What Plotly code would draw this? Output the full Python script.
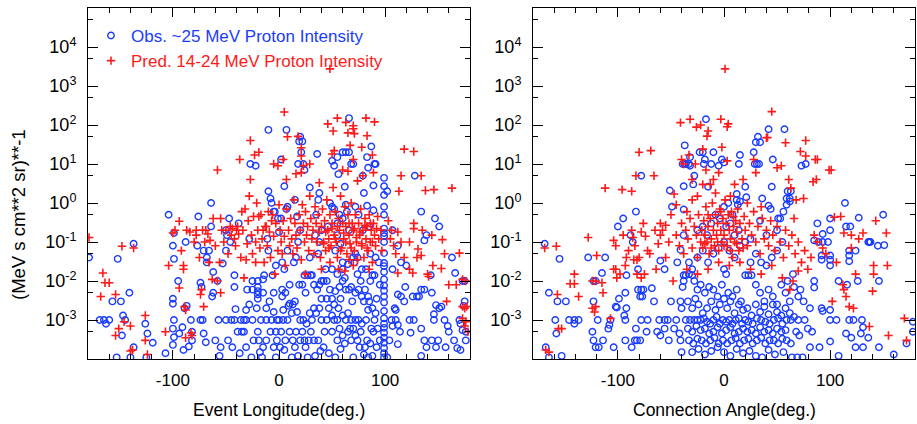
import plotly.graph_objects as go

# ---------------- data ----------------
x_tick_vals = [-100, 0, 100]
x_tick_text = ["-100", "0", "100"]
y_tick_vals = [1e-4, 1e-3, 1e-2, 1e-1, 1e0, 1e1, 1e2, 1e3, 1e4, 1e5]
y_tick_text = ["", "10<sup>-3</sup>", "10<sup>-2</sup>", "10<sup>-1</sup>", "10<sup>0</sup>",
               "10<sup>1</sup>", "10<sup>2</sup>", "10<sup>3</sup>", "10<sup>4</sup>", ""]
y_minor_vals = [5e-4, 5e-3, 5e-2, 5e-1, 5e0, 5e1, 5e2, 5e3, 5e4]

# Left panel: observed intensity vs event longitude
obs_lon_x = [
    -179, -152, -137, -141, -157, -149, -169, -165, -160, -163,
    -147, -145, -148, -137, -153, -140, -125, -126, -124, -119,
    -107, -104, -99, -100, -99, -100, -100, -99, -100, -99,
    -100, -95, -94, -91, -90, -89, -87, -88, -85, -83,
    -82, -82, -76, -77, -74, -73, -74, -72, -71, -71,
    -69, -68, -68, -66, -64, -64, -62, -62, -63, -60,
    -58, -57, -56, -55, -53, -50, -50, -49, -47, -50,
    -45, -48, -46, -42, -42, -41, -42, -39, -38, -36,
    -35, -33, -31, -31, -31, -28, -27, -22, -25, -25,
    -25, -24, -20, -20, -20, -20, -20, -21, -20, -19,
    -17, -16, -15, -14, -12, -12, -12, -10, -10, -8,
    -7, -5, -4, -7, -8, -5, -3, -2, -1, 0,
    -10, -11, -15, -18, -2, -3, -6, -5, 7, 2,
    5, 8, 7, 2, 8, 3, 5, 6, 3, 4,
    9, 10, 0, 4, 8, 2, 6, 1, 5, 12,
    14, 15, 17, 18, 18, 20, 19, 22, 21, 23,
    24, 20, 16, 19, 22, 24, 27, 30, 13, 15,
    12, 17, 20, 23, 26, 20, 24, 28, 16, 22,
    30, 15, 25, 27, 29, 29, 31, 33, 31, 29,
    33, 36, 37, 38, 35, 34, 40, 37, 38, 40,
    42, 36, 40, 38, 45, 43, 45, 40, 37, 47,
    42, 44, 46, 48, 50, 52, 55, 56, 60, 63,
    66, 66, 62, 63, 50, 52, 55, 57, 60, 64,
    55, 53, 58, 66, 68, 70, 72, 75, 70, 74,
    65, 60, 53, 55, 58, 60, 56, 50, 50, 52,
    55, 60, 63, 66, 69, 72, 75, 78, 80, 65,
    68, 72, 75, 78, 82, 84, 86, 88, 90, 85,
    92, 50, 55, 58, 62, 65, 68, 70, 72, 76,
    80, 83, 86, 89, 90, 92, 79, 80, 83, 84,
    87, 90, 91, 89, 83, 89, 85, 79, 72, 86,
    91, 94, 78, 82, 95, 99, 99, 99, 99, 99,
    99, 99, 99, 99, 99, 99, 99, 99, 99, 99,
    99, 99, 99, 99, 99, 99, 99, 99, 99, 99,
    99, 99, 99, 102, 107, 112, 115, 107, 128, 134,
    147, 151, 139, 137, 163, 166, 173, 175, 175, 174,
    170, 171, 173, 176, 176, 171, 168, 156, 159, 160,
    165, 157, 146, 146, 148, 151, 153, 144, 143, 134,
    137, 132, 130, 126, 123, 127, 124, 134, 134, 137,
    139, 144, 150, 148, 119, 115, 112, 118, 109, 110,
    106, 110, 107, 112, 114, 104, 112, 102, 120, -30,
    3, 10, 25, 33, 45, 48, 52, 57, 62, 68,
    71, 74, 77, 81, 84, 88, 91, 93, 95, 88,
    35, 38, 47, 50, 57, 60, 63, 67, 70, 74,
    77, 81, 84, 87, 18, 10, 13, 34, 39, 53,
    -26, -37, -44, -33, -28, -15, -9, -5, -3, 60,
]
obs_lon_y = [
    4e-2, 3.7e-2, 9e-2, 5e-3, 3e-3, 3e-3, 1e-3, 1e-3, 1e-3, 8e-4,
    1.3e-3, 1e-3, 4e-4, 2e-4, 1.1e-4, 1.1e-4, 1.1e-4, 8e-4, 4.5e-4, 2.6e-4,
    1.4e-4, 0.5, 0.17, 0.08, 0.037, 3.5e-3, 2.6e-3, 1e-3, 6e-4, 3.6e-4,
    2.3e-4, 1e-2, 4.5e-4, 6.5e-4, 1.7e-4, 2e-3, 2.3e-3, 0.1, 2.1e-4, 1e-3,
    5e-4, 3e-4, 0.45, 0.08, 9e-3, 7e-3, 1e-3, 1e-3, 4.5e-4, 0.06,
    2.7e-4, 0.03, 0.04, 0.06, 1.0, 0.25, 1.7e-2, 5e-3, 4e-3, 3e-4,
    1e-2, 1e-3, 1.2e-4, 2e-4, 2.8e-2, 0.06, 0.2, 0.15, 0.4, 1e-3,
    1e-3, 3e-4, 0.1, 1.4e-2, 7e-3, 1.9e-3, 1e-3, 5e-4, 0.3, 1e-3,
    5e-4, 5e-4, 1.8e-3, 1e-3, 2e-4, 0.12, 10, 9, 6e-3, 1e-2,
    1e-3, 3e-4, 1e-2, 7e-3, 5.5e-3, 4.5e-3, 3.5e-3, 2e-3, 5e-4, 3e-4,
    1e-3, 1.1e-4, 1.1e-2, 1.4e-2, 2e-3, 1e-3, 3e-4, 0.06, 2, 1.3,
    1.0, 0.6, 0.6, 1e-3, 5e-4, 2e-4, 1.1e-4, 1e-3, 0.4, 0.18,
    75, 0.12, 2e-4, 1.5e-4, 3e-4, 2.5e-2, 1.4e-2, 5e-3, 75, 13,
    2.7, 0.8, 0.7, 0.4, 0.06, 0.03, 0.02, 5e-3, 4e-3, 1.8e-3,
    2.3e-3, 2.6e-3, 1e-3, 1e-3, 1e-3, 5e-4, 3e-4, 2e-4, 1.7e-4, 1.1e-4,
    3e-2, 1.2, 0.45, 0.1, 10, 50, 38, 38, 20, 10,
    7, 0.2, 0.04, 8e-3, 8e-3, 1.4e-2, 1.4e-2, 1.4e-2, 2.5e-3, 3e-3,
    1.5e-3, 1.6e-3, 1e-3, 1e-3, 8e-4, 3e-4, 3e-4, 3e-4, 5e-4, 5e-4,
    5e-4, 2e-4, 2e-4, 1.1e-4, 2.5, 0.04, 1.4e-2, 2e-3, 1e-3, 1.5e-3,
    3e-4, 18, 1.2, 1.8, 0.5, 0.15, 0.2, 0.05, 0.1, 1e-2,
    1e-2, 6e-3, 3.5e-3, 8e-3, 3.5e-3, 5e-4, 1e-3, 1e-3, 3e-4, 1.4e-4,
    2e-4, 2e-2, 0.25, 1.0, 12, 9, 15, 5.5, 20, 20,
    20, 150, 2.6, 0.9, 0.8, 0.7, 0.3, 0.5, 0.4, 0.6,
    0.15, 0.06, 0.09, 0.2, 10, 10, 0.8, 0.5, 0.04, 0.04,
    2.7e-2, 3e-2, 5.5e-3, 1.5e-2, 3.5e-3, 2e-2, 2e-3, 2e-2, 3.5e-3, 1e-3,
    1e-3, 1.3e-3, 6e-3, 6e-3, 3e-3, 5e-3, 6e-3, 4e-3, 3e-3, 1.5e-3,
    1e-3, 1e-3, 1e-3, 8e-4, 1e-3, 1.8e-3, 1e-2, 1.4e-2, 1.4e-2, 3e-3,
    3.5e-3, 5e-4, 3e-4, 1.8e-4, 2.5e-4, 5e-4, 3e-4, 1.1e-4, 4e-4, 2e-4,
    1.3e-4, 3e-4, 2.5e-4, 5e-4, 1e-3, 2e-4, 5, 1.8, 15, 8,
    28, 10, 10, 2.8, 0.85, 0.65, 0.25, 0.2, 0.05, 0.05,
    0.04, 0.03, 0.02, 0.02, 8e-3, 4.4, 2.7, 1.6, 0.8, 0.5,
    0.22, 0.17, 0.14, 0.1, 0.052, 0.029, 0.024, 0.017, 0.011, 7.6e-3,
    5.6e-3, 4e-3, 2.8e-3, 1.7e-3, 1.1e-3, 8e-4, 6.3e-4, 4.7e-4, 3.5e-4, 2.6e-4,
    1.9e-4, 1.4e-4, 1.1e-4, 2.0, 0.2, 0.08, 0.03, 0.02, 5, 0.6,
    0.4, 0.25, 0.15, 0.11, 0.04, 0.016, 0.01, 0.01, 3e-3, 2.3e-3,
    1e-3, 8e-4, 5.5e-4, 5e-4, 3e-4, 1.7e-4, 1.9e-4, 1e-3, 7e-4, 5e-4,
    3e-4, 2e-4, 1.4e-3, 1e-3, 2.4e-3, 2e-3, 2.2e-3, 5e-3, 1.4e-2, 6e-3,
    6e-3, 4e-3, 4e-3, 4e-3, 1e-3, 1e-3, 4.7e-4, 6e-4, 1.2e-4, 3e-4,
    2e-4, 3e-4, 3e-4, 2e-4, 7e-3, 4e-3, 4.5e-3, 3e-3, 2e-3, 1.8e-3,
    1e-3, 1e-3, 7e-4, 7.5e-4, 5e-4, 3e-4, 2.4e-4, 1.1e-4, 2.5e-2, 6e-3,
    6e-3, 8e-3, 5e-3, 8e-3, 1e-2, 6e-3, 2.5e-3, 7e-3, 1.2e-2, 7e-3,
    3e-2, 1.5e-2, 1e-2, 6e-3, 4e-3, 2e-3, 1.5e-3, 6e-4, 3e-4, 1.2e-4,
    1.5e-3, 2e-3, 2e-3, 1.3e-3, 6e-4, 4e-4, 1e-3, 6e-4, 6e-4, 3e-4,
    5e-4, 2e-4, 1.1e-4, 6e-4, 1.2e-4, 5e-4, 3e-4, 1.2e-4, 1.6e-4, 1.1e-4,
    1.1e-4, 1.4e-4, 2e-4, 1e-3, 2.5e-3, 5e-3, 3e-3, 1.6e-3, 5e-4, 1e-2,
]

# Left panel: predicted intensity vs event longitude
pred_lon_x = [
    -179, -168, -166, -164, -160, -154, -154, -151, -148, -146,
    -140, -137, -140, -138, -126, -126, -124, -107, -104, -100,
    -94, -90, -90, -94, -89, -88, -88, -83, -82, -87,
    -78, -78, -74, -73, -71, -69, -67, -65, -63, -58,
    -55, -55, -58, -50, -46, -44, -40, -38, -42, -37,
    -35, -32, -28, -27, -23, -19, -27, -21, -19, -15,
    -12, -7, 5, 8, 4, -5, -1, 7, 16, 18,
    21, 21, 21, 23, 29, 38, 48, 46, 55, 51,
    63, 65, 70, 70, 71, 82, 90, 83, 78, 67,
    50, 52, 60, 65, 70, 74, 79, 88, 89, 118,
    127, 115, 134, 138, 146, 163, 113, 127, 127, 135,
    123, 131, 130, 134, 144, 154, 156, 170, 145, 153,
    123, 112, 126, 140, 141, 160, 167, 173, 176, 158,
    173, 175, 177, 173, 175, 178, 176, -98, -92, -84,
    -80, -75, -72, -70, -66, -62, -60, -56, -54, -52,
    -48, -45, -41, -39, -36, -34, -31, -30, -29, -26,
    -25, -24, -22, -20, -18, -17, -16, -14, -13, -11,
    -10, -9, -8, -6, -5, -4, -3, -1, 0, 1,
    2, 3, 4, 5, 6, 7, 9, 10, 11, 12,
    13, 14, 15, 16, 17, 19, 20, 21, 22, 23,
    24, 25, 26, 27, 28, 29, 30, 31, 32, 33,
    34, 35, 36, 37, 38, 39, 40, 41, 42, 43,
    44, 45, 46, 47, 48, 49, 50, 51, 52, 53,
    54, 55, 56, 57, 58, 59, 60, 61, 62, 63,
    64, 65, 66, 67, 68, 69, 70, 71, 72, 73,
    74, 75, 76, 77, 78, 79, 80, 81, 82, 83,
    84, 85, 86, 87, 88, 89, 90, 91, 93, 94,
    96, 97, 103, 105, 106, 108, 110, 112, 115, 118,
    56, 62, 70, 85, 40, 25, -22, -33, 48, 66,
    42, 47, 53, 58, 63, 68, 73, 78, 83, 88,
    44, 50, 55, 61, 66, 71, 76, 81, 86, 92,
]
pred_lon_y = [
    0.13, 4e-3, 0.016, 9e-3, 9e-3, 4.5e-3, 4e-4, 6e-4, 0.078, 9e-4,
    7e-4, 0.07, 1.6e-4, 1.7e-4, 1.3e-3, 3e-4, 1.3e-4, 5e-4, 0.025, 0.17,
    0.34, 0.025, 0.02, 6.6e-3, 2.2e-3, 1.8e-3, 3.5e-4, 4.7e-4, 4e-4, 0.2,
    0.15, 0.2, 4.5e-3, 6e-3, 2.2e-3, 0.2, 0.16, 0.11, 0.011, 0.01,
    5e-3, 0.4, 7, 0.2, 0.25, 0.22, 0.2, 0.16, 0.12, 13,
    0.6, 0.7, 1.5, 4, 17, 20, 40, 1.0, 0.45, 0.2,
    0.25, 0.35, 215, 50, 13, 10, 9, 4, 5.6, 51,
    26, 16, 6, 9, 10, 3.3, 2750, 107, 150, 70,
    117, 63, 96, 80, 60, 150, 120, 53, 27, 30,
    18, 22, 7, 6.5, 13, 3.7, 5, 17, 6, 24,
    21, 5, 5, 2.1, 2.2, 2.4, 2, 0.3, 0.22, 0.2,
    0.1, 0.066, 0.04, 0.045, 0.15, 0.115, 0.05, 0.052, 0.025, 0.021,
    0.02, 0.016, 0.016, 0.015, 0.013, 8e-3, 8e-3, 0.011, 0.01, 3e-3,
    2.2e-3, 2e-3, 2.2e-3, 1.1e-3, 7e-4, 5e-4, 9e-4, 0.2, 0.06, 0.18,
    0.1, 0.04, 0.2, 0.1, 0.03, 0.4, 0.08, 0.03, 0.2, 0.1,
    0.05, 0.15, 0.08, 0.25, 0.04, 0.2, 0.035, 0.09, 0.35, 0.15,
    0.05, 0.45, 0.1, 0.2, 0.07, 0.5, 0.12, 0.03, 0.25, 0.08,
    0.6, 0.18, 0.04, 0.5, 0.14, 0.015, 0.3, 0.06, 0.9, 0.2,
    0.1, 0.05, 0.35, 0.14, 0.025, 0.7, 0.2, 0.08, 0.4, 0.12,
    0.05, 1.2, 0.3, 0.15, 0.07, 0.5, 0.2, 0.035, 0.9, 0.3,
    0.1, 0.6, 0.15, 0.25, 0.06, 1.5, 0.4, 0.12, 0.2, 0.05,
    0.8, 0.3, 0.1, 0.5, 0.18, 0.04, 0.25, 0.7, 0.1, 0.35,
    0.06, 1.2, 0.2, 0.12, 0.5, 0.08, 0.3, 2.5, 0.15, 0.6,
    0.1, 0.04, 0.4, 0.2, 1.5, 0.07, 0.3, 0.12, 0.8, 0.25,
    0.05, 0.5, 0.15, 0.09, 1.0, 0.3, 0.2, 0.06, 0.5, 0.1,
    0.035, 0.3, 0.15, 0.7, 0.08, 0.2, 0.04, 0.4, 0.12, 0.25,
    0.06, 0.5, 0.1, 0.2, 0.03, 0.3, 0.15, 0.08, 0.45, 0.12,
    0.2, 0.06, 0.35, 0.12, 0.2, 0.08, 0.05, 0.18, 0.1, 0.04,
    0.02, 0.018, 0.025, 0.02, 0.02, 0.015, 0.03, 0.012, 0.03, 0.035,
    0.09, 0.07, 0.12, 0.06, 0.1, 0.07, 0.13, 0.09, 0.07, 0.1,
    0.18, 0.22, 0.25, 0.17, 0.3, 0.22, 0.18, 0.27, 0.3, 0.22,
]

# Right panel: observed intensity vs connection angle
obs_ang_x = [
    -169, -165, -168, -165, -159, -155, -158, -157, -149, -153,
    -146, -141, -137, -141, -128, -123, -123, -121, -124, -123,
    -121, -119, -118, -115, -112, -114, -109, -108, -107, -104,
    -102, -101, -100, -99, -95, -94, -93, -92, -92, -93,
    -93, -88, -86, -87, -84, -83, -83, -81, -81, -78,
    -76, -79, -77, -78, -72, -73, -79, -82, -78, -66,
    -68, -63, -61, -56, -53, -60, -56, -60, -56, -52,
    -51, -49, -50, -44, -41, -42, -41, -41, -38, -38,
    -38, -37, -39, -37, -36, -33, -32, -32, -33, -38,
    -36, -38, -39, -17, -23, -20, -18, -19, -15, -28,
    -29, -10, -5, 0, -2, -12, 15, 14, 13, 20,
    32, 30, 34, 28, 29, 31, 33, 42, 57, 46,
    45, 60, 59, 59, 77, 73, 114, 150, 119, 127,
    100, 145, 136, 88, 63, 62, 62, 36, 21, 15,
    12, 12, 4, 0, 56, 42, 44, 34, 51, 53,
    14, 50, 115, 100, 151, 138, 118, 118, 118, 124,
    100, 100, 100, 93, 93, 98, 85, 89, 108, 116,
    126, 146, 137, 92, 92, 85, 85, 81, 92, 93,
    100, 100, 106, 118, 122, 130, 131, 129, 136, 115,
    120, 124, 131, 146, 160, 172, 178, 178, 81, 90,
    100, 108, 74, 68, 71, 70, 72, 75, 60, 65,
    -30, -25, -20, -15, -10, -5, 0, 5, 10, 15,
    20, 25, 30, 35, 40, 45, 50, 55, -12, -8,
    -4, 2, 6, 8, -20, -25, -16, 10, 25, 40,
    -33, -30, -28, -25, -22, -18, -14, -10, -6, -2,
    0, 2, 4, 8, 12, 16, 20, 23, 26, 30,
    34, 38, 42, 46, 50, 54, 58, 62, 66, 70,
    -34, -30, -27, -24, -20, -16, -12, -8, -4, 0,
    3, 6, 10, 14, 18, 22, 26, 30, 34, 38,
    42, 46, 50, 54, 58, 62, 66, -32, -28, -25,
    -22, -19, -16, -13, -10, -7, -4, -1, 2, 5,
    8, 11, 14, 17, 20, 23, 27, 31, 35, 39,
    43, 47, 51, 55, 59, 63, -34, -30, -26, -22,
    -18, -14, -10, -6, -2, 2, 6, 10, 14, 18,
    22, 26, 30, 34, 38, 42, 46, 50, 54, 58,
    -33, -29, -25, -21, -17, -13, -9, -5, -1, 3,
    7, 11, 15, 19, 23, 27, 31, 35, 39, 43,
    47, 51, 55, 59, 63, -30, -24, -18, -12, -6,
    0, 6, 12, 18, 24, 30, 36, 42, 48, 56,
    -40, -36, -45, -47, -40, 64, 69, 76, 79, 83,
]
obs_ang_y = [
    0.09, 5e-3, 2e-4, 1.1e-4, 1e-3, 0.037, 4.5e-4, 3e-3, 3e-3, 1.2e-4,
    1e-3, 1e-3, 1e-3, 8e-4, 0.04, 3e-3, 0.01, 0.01, 5e-4, 3e-4,
    2e-4, 1e-3, 2e-4, 0.016, 0.04, 3e-4, 6e-4, 7.5e-4, 1e-3, 2e-4,
    2.2e-3, 2.1e-3, 0.25, 3.5e-3, 0.4, 1.3e-3, 1e-3, 0.014, 2e-3, 5e-3,
    3e-4, 0.15, 0.1, 2e-4, 3e-4, 6e-4, 0.6, 0.02, 6e-3, 6e-3,
    6e-3, 4e-3, 4e-3, 1e-3, 1e-3, 5e-4, 3e-4, 3e-4, 5, 3e-3,
    6.5e-3, 5e-4, 1e-3, 1e-3, 1e-3, 0.033, 0.02, 4e-4, 6e-4, 3e-4,
    2.1, 0.8, 3e-3, 0.03, 3e-3, 4.5e-4, 3e-4, 0.063, 2.7, 0.68,
    0.15, 30, 10, 10, 10, 10, 9, 15, 0.03, 0.014,
    0.014, 0.01, 7e-3, 140, 20, 20, 13, 10, 2.6, 5,
    3, 20, 9, 11, 13, 10, 17, 10, 0.9, 2.6,
    50, 36, 36, 20, 10, 10, 10, 78, 78, 13,
    2.6, 2, 1.3, 0.9, 10, 9, 1.0, 0.5, 0.25, 0.42,
    0.4, 0.08, 0.1, 0.3, 2, 1.3, 1.1, 1.3, 1.4, 1.1,
    1.7, 1.2, 1.0, 0.8, 0.6, 0.85, 0.7, 0.35, 0.4, 0.4,
    0.2, 0.2, 0.25, 0.2, 0.083, 0.1, 0.06, 0.045, 0.032, 0.06,
    0.045, 0.035, 0.025, 0.1, 0.16, 0.1, 0.11, 0.1, 0.01, 8e-3,
    0.01, 0.01, 0.1, 0.045, 0.035, 0.01, 6.8e-3, 2e-3, 2e-3, 1.7e-3,
    1.8e-3, 1e-3, 1e-3, 1e-3, 1e-3, 1e-3, 6.5e-4, 4.5e-4, 3.5e-4, 4.5e-4,
    3.5e-4, 2e-4, 2e-4, 2e-4, 1.3e-4, 2.5e-4, 9e-4, 5e-4, 2e-4, 2e-4,
    2.8e-4, 1.2e-4, 1.1e-4, 5e-4, 4e-4, 1e-3, 6e-3, 3e-3, 0.01, 0.015,
    0.02, 0.04, 0.06, 0.03, 0.05, 0.07, 0.1, 0.06, 0.04, 0.08,
    0.1, 0.03, 0.05, 0.03, 0.025, 0.04, 0.06, 0.1, 0.3, 0.5,
    0.4, 0.25, 0.3, 0.5, 0.25, 0.2, 0.15, 0.15, 0.12, 0.15,
    1.5e-2, 1.4e-2, 1e-2, 6e-3, 8e-3, 5e-3, 7e-3, 6e-3, 4e-3, 8e-3,
    0.02, 0.015, 5e-3, 4e-3, 6e-3, 3e-3, 1.4e-2, 1.4e-2, 1.4e-2, 8e-3,
    5e-3, 3e-3, 6e-3, 4e-3, 2.5e-3, 8e-3, 5e-3, 3e-3, 7e-3, 4e-3,
    3e-3, 2e-3, 3.5e-3, 2.5e-3, 1.5e-3, 2e-3, 3e-3, 1.8e-3, 2.5e-3, 3.5e-3,
    2e-3, 3e-3, 1.5e-3, 2.5e-3, 1.8e-3, 2e-3, 1.3e-3, 2.5e-3, 1.6e-3, 2.2e-3,
    1.4e-3, 2.5e-3, 1.6e-3, 1.3e-3, 2e-3, 1.5e-3, 1.2e-3, 1e-3, 1e-3, 1e-3,
    1e-3, 1.1e-3, 9e-4, 8e-4, 1e-3, 1.2e-3, 8e-4, 1e-3, 9e-4, 1e-3,
    8e-4, 1e-3, 1.1e-3, 8e-4, 1e-3, 9e-4, 8e-4, 1.1e-3, 1e-3, 9e-4,
    8e-4, 1e-3, 1.1e-3, 8e-4, 1e-3, 1e-3, 6e-4, 5e-4, 7e-4, 5.5e-4,
    6e-4, 4.5e-4, 5e-4, 6.5e-4, 4.5e-4, 5.5e-4, 6.5e-4, 4.5e-4, 5e-4, 6e-4,
    5e-4, 5.5e-4, 4.5e-4, 6.5e-4, 5e-4, 5.5e-4, 4.5e-4, 6e-4, 5e-4, 5.5e-4,
    3e-4, 2.5e-4, 3.3e-4, 3e-4, 2.5e-4, 3e-4, 3.5e-4, 2.5e-4, 3e-4, 2.5e-4,
    3e-4, 3.4e-4, 2.5e-4, 3e-4, 3.3e-4, 2.5e-4, 3e-4, 3.5e-4, 2.5e-4, 3e-4,
    3e-4, 2.5e-4, 3.3e-4, 3e-4, 2.5e-4, 1.5e-4, 1.8e-4, 1.3e-4, 1.6e-4, 2e-4,
    1.5e-4, 1.2e-4, 1.8e-4, 1.4e-4, 1.6e-4, 1.2e-4, 1.1e-4, 1.7e-4, 1.3e-4, 1.5e-4,
    2e-3, 1e-3, 1e-3, 6e-4, 1.5e-4, 1.1e-4, 1.1e-4, 1e-3, 6e-4, 5e-4,
]

# Right panel: predicted intensity vs connection angle
pred_ang_x = [
    -169, -158, -168, -165, -157, -156, -153, -141, -145, -141,
    -137, -128, -124, -121, -120, -124, -121, -122, -115, -114,
    -112, -107, -104, -102, -104, -102, -101, -96, -95, -93,
    -92, -87, -87, -86, -85, -83, -80, -69, -66, -55,
    -58, -60, -62, -64, -70, -72, -74, -76, -78, -80,
    -82, -84, -75, -82, -78, -47, -41, -32, -33, -26,
    -22, -16, -20, -15, -3, 3, -2, 3, -17, -13,
    -30, -38, -40, -27, 1, 45, 41, 77, 86, 99,
    84, 66, 104, 110, 113, 120, 131, 143, 153, 154,
    141, 141, 140, 137, 155, 170, 172, 118, 122, 115,
    113, 112, 124, 127, 120, 106, 102, 96, 93, 88,
    4, 40, 58, 72, 77, 88, 101, 87, 61, 63,
    75, 68, 54, 50, 28, 30, 18, 10, -5, -10,
    -20, -25, -30, -35, -45, -50, -8, 6, 22, 35,
    -45, -42, -40, -38, -36, -34, -32, -30, -28, -26,
    -25, -24, -22, -21, -20, -19, -18, -17, -16, -15,
    -14, -13, -12, -11, -10, -9, -8, -7, -6, -5,
    -4, -3, -2, -1, 0, 1, 2, 3, 4, 5,
    6, 7, 8, 9, 10, 11, 12, 13, 14, 15,
    17, 19, 20, 22, 24, 26, 28, 30, 32, 34,
    36, 38, 40, 42, 44, 46, 48, 50, 53, 56,
    58, 61, 64, 67, 70, 73, 76, 79, 82, 85,
    -35, -25, -15, -5, 5, 15, 25, 35, 45, 55,
    65, -48, -55, -60, -52, -65, -90, -98, 62, 70,
    -18, -12, -6, 0, 6, 12, 18, -15, -3, 9,
]
pred_ang_y = [
    0.07, 0.078, 1.7e-4, 1.5e-4, 4.5e-3, 6e-4, 6e-4, 0.015, 8.5e-3, 8.5e-3,
    4e-3, 0.13, 0.01, 0.01, 0.045, 2e-3, 2.2e-3, 1.6e-3, 9e-3, 5e-3,
    2.4, 1.1e-3, 0.02, 0.02, 0.11, 0.08, 0.012, 2.2, 0.15, 0.025,
    0.04, 2.0, 0.2, 0.13, 0.035, 5, 20, 22, 5, 0.27,
    0.2, 0.15, 0.09, 0.02, 0.05, 0.06, 0.14, 0.3, 0.18, 0.04,
    0.035, 0.08, 0.015, 0.015, 0.012, 1.7, 115, 140, 17, 88,
    100, 52, 24, 70, 140, 90, 27, 12, 7, 3,
    4, 10, 13, 10, 2750, 220, 48, 40, 13, 7,
    3.5, 0.4, 0.43, 0.45, 0.17, 0.15, 0.17, 0.35, 0.17, 0.025,
    0.025, 0.015, 5.5e-3, 6.8e-4, 4e-4, 1.1e-3, 3e-4, 2.2e-3, 2e-3, 4e-3,
    6e-3, 8e-3, 0.015, 0.12, 0.07, 0.03, 3e-3, 0.05, 0.07, 0.1,
    107, 47, 35, 21, 16, 13, 7, 4, 4, 2.4,
    1.3, 1.2, 9, 8, 13, 6, 4, 3, 6, 4,
    3, 1.5, 1.2, 0.6, 0.9, 0.5, 1.8, 1.5, 1.0, 0.8,
    0.15, 0.08, 0.3, 0.05, 0.2, 0.12, 0.4, 0.07, 0.25, 0.15,
    0.04, 0.5, 0.1, 0.2, 0.07, 0.35, 0.15, 0.8, 0.1, 0.25,
    0.05, 0.4, 0.12, 1.0, 0.2, 0.08, 0.5, 0.15, 0.3, 0.06,
    0.7, 0.2, 0.1, 0.4, 0.15, 1.2, 0.3, 0.08, 0.5, 0.2,
    0.12, 0.6, 0.04, 0.25, 0.1, 0.35, 0.18, 0.7, 0.06, 0.3,
    0.12, 0.45, 0.2, 0.08, 0.3, 0.15, 0.6, 0.1, 0.25, 0.05,
    0.4, 0.12, 0.2, 0.08, 0.35, 0.15, 0.06, 0.25, 0.1, 0.04,
    0.2, 0.08, 0.15, 0.05, 0.1, 0.03, 0.06, 0.02, 0.04, 0.15,
    0.02, 0.015, 0.02, 0.03, 0.025, 0.03, 0.02, 0.015, 0.025, 0.012,
    0.01, 0.01, 0.04, 0.3, 0.1, 0.2, 0.06, 0.015, 6e-3, 0.018,
    0.09, 0.07, 0.1, 0.08, 0.06, 0.09, 0.07, 0.5, 0.6, 0.45,
]

for a, b in [(obs_lon_x, obs_lon_y), (pred_lon_x, pred_lon_y),
             (obs_ang_x, obs_ang_y), (pred_ang_x, pred_ang_y)]:
    assert len(a) == len(b), (len(a), len(b))

# ---------------- styling ----------------
W, H = 917, 424
BLUE = "#1a3cff"
RED = "#ff1a1a"
FONT = "Liberation Sans, Arial, Helvetica, sans-serif"

obs_marker = dict(symbol="circle-open", size=6.5, color=BLUE, line=dict(width=1.4, color=BLUE))
pred_marker = dict(symbol="cross-thin-open", size=6, color=RED, line=dict(width=1.6, color=RED))

fig = go.Figure()
fig.add_trace(go.Scatter(
    x=obs_lon_x, y=obs_lon_y, mode="markers", marker=obs_marker,
    name=f'<span style="color:{BLUE}">Obs. ~25 MeV Proton Intensity</span>',
    xaxis="x", yaxis="y", showlegend=True))
fig.add_trace(go.Scatter(
    x=pred_lon_x, y=pred_lon_y, mode="markers", marker=pred_marker,
    name=f'<span style="color:{RED}">Pred. 14-24 MeV Proton Intensity</span>',
    xaxis="x", yaxis="y", showlegend=True))
fig.add_trace(go.Scatter(
    x=obs_ang_x, y=obs_ang_y, mode="markers", marker=obs_marker,
    xaxis="x2", yaxis="y2", showlegend=False))
fig.add_trace(go.Scatter(
    x=pred_ang_x, y=pred_ang_y, mode="markers", marker=pred_marker,
    xaxis="x2", yaxis="y2", showlegend=False))


def px_x(p):
    return p / W


def px_y(p):
    return 1 - p / H


def xax(domain, anchor):
    return dict(
        domain=domain, anchor=anchor, range=[-180, 180],
        tickmode="array", tickvals=x_tick_vals, ticktext=x_tick_text,
        ticks="inside", ticklen=9, tickwidth=1, tickcolor="black",
        showline=True, linecolor="black", linewidth=1, mirror="ticks",
        showgrid=False, zeroline=False,
        minor=dict(dtick=20, tick0=0, ticks="inside", ticklen=5, tickwidth=1,
                   tickcolor="black", showgrid=False),
        tickfont=dict(size=17, color="black", family=FONT),
        ticklabelstandoff=6, automargin=False,
    )


def yax(domain, anchor):
    return dict(
        domain=domain, anchor=anchor, type="log", range=[-4, 5],
        tickmode="array", tickvals=y_tick_vals, ticktext=y_tick_text,
        ticks="inside", ticklen=10, tickwidth=1, tickcolor="black",
        showline=True, linecolor="black", linewidth=1, mirror="ticks",
        showgrid=False, zeroline=False,
        minor=dict(tickvals=y_minor_vals, ticks="inside", ticklen=5, tickwidth=1,
                   tickcolor="black", showgrid=False),
        tickfont=dict(size=18, color="black", family=FONT),
        ticklabelstandoff=7, automargin=False,
    )


ydom = [px_y(359), px_y(8)]
fig.update_layout(
    width=W, height=H, autosize=False,
    margin=dict(l=0, r=0, t=0, b=0),
    paper_bgcolor="white", plot_bgcolor="white",
    font=dict(family=FONT, size=17, color="black"),
    xaxis=xax([px_x(88), px_x(470)], "y"),
    yaxis=yax(ydom, "x"),
    xaxis2=xax([px_x(533), px_x(915)], "y2"),
    yaxis2=yax(ydom, "x2"),
    legend=dict(x=px_x(91), y=px_y(18), xanchor="left", yanchor="top",
                bgcolor="rgba(0,0,0,0)", borderwidth=0,
                font=dict(size=17, family=FONT), tracegroupgap=0,
                itemsizing="trace"),
    annotations=[
        dict(text="Event Longitude(deg.)", x=px_x(279), y=px_y(410), xref="paper", yref="paper",
             showarrow=False, xanchor="center", yanchor="middle", font=dict(size=17.5)),
        dict(text="Connection Angle(deg.)", x=px_x(724), y=px_y(410), xref="paper", yref="paper",
             showarrow=False, xanchor="center", yanchor="middle", font=dict(size=17.5)),
        dict(text="(MeV s cm**2 sr)**-1", x=px_x(18), y=px_y(215), xref="paper", yref="paper",
             showarrow=False, xanchor="center", yanchor="middle", textangle=-90,
             font=dict(size=18.5)),
    ],
)

# remove the browser's default page margin so the figure fills the window exactly
fig.write_html("out.html", config={"displayModeBar": False},
               post_script="document.body.style.margin='0';")
